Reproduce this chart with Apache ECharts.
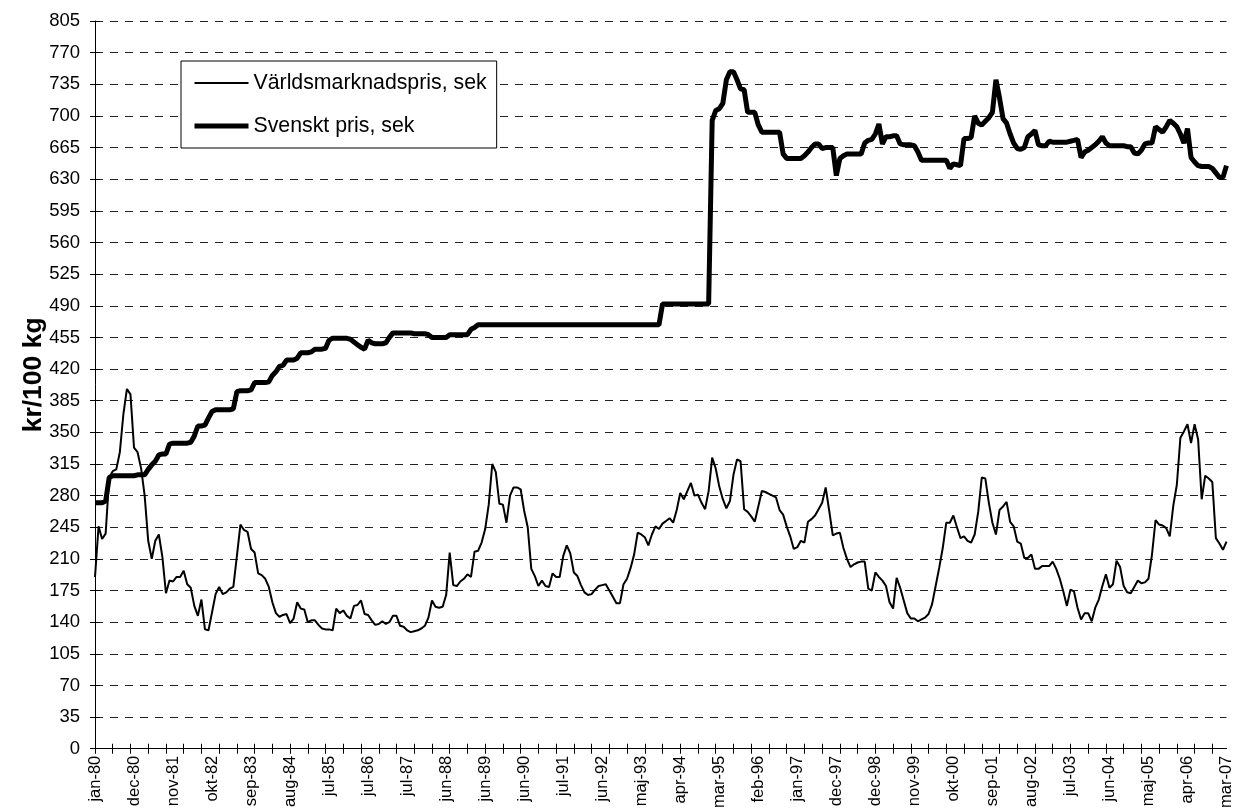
<!DOCTYPE html>
<html>
<head>
<meta charset="utf-8">
<title>Världsmarknadspris och svenskt pris</title>
<script src="https://cdn.jsdelivr.net/npm/echarts@6/dist/echarts.min.js"></script>
<style>
  html, body { margin: 0; padding: 0; background: #fff; }
  #chart { width: 1235px; height: 811px; }
</style>
</head>
<body>
<div id="chart"></div>
<script>
// Axis labels shown every 11th month
const tickLabels = [
  'jan-80', 'dec-80', 'nov-81', 'okt-82', 'sep-83', 'aug-84', 'jul-85', 'jul-86',
  'jul-87', 'jun-88', 'jun-89', 'jun-90', 'jul-91', 'jun-92', 'maj-93', 'apr-94',
  'mar-95', 'feb-96', 'jan-97', 'dec-97', 'dec-98', 'nov-99', 'okt-00', 'sep-01',
  'aug-02', 'jul-03', 'jun-04', 'maj-05', 'apr-06', 'mar-07'
];

// Världsmarknadspris, sek (kr/100 kg), monthly
const worldPrice = [
  190, 246, 232, 238, 300, 307, 309, 328, 370, 398,
  392, 333, 328, 310, 280, 230, 210, 230, 237, 212,
  172, 186, 185, 190, 190, 197, 182, 178, 158, 147,
  165, 132, 131, 151, 171, 179, 171, 173, 177, 179,
  213, 248, 242, 240, 221, 217, 194, 192, 188, 179,
  162, 150, 146, 148, 149, 139, 144, 162, 155, 154,
  140, 142, 142, 137, 133, 132, 132, 131, 155, 150,
  153, 147, 144, 158, 159, 164, 149, 148, 142, 137,
  138, 141, 138, 140, 147, 147, 136, 135, 131, 129,
  130, 131, 133, 136, 145, 164, 157, 156, 157, 170,
  217, 181, 180, 185, 188, 193, 190, 218, 219, 228,
  243, 270, 315, 306, 271, 270, 250, 280, 289, 289,
  287, 263, 245, 199, 191, 180, 186, 180, 179, 194,
  190, 190, 213, 225, 216, 195, 191, 181, 173, 170,
  171, 176, 180, 181, 182, 175, 168, 161, 161, 182,
  188, 200, 215, 239, 237, 234, 225, 237, 246, 243,
  249, 252, 255, 250, 264, 283, 276, 285, 294, 280,
  281, 272, 265, 285, 322, 310, 290, 276, 266, 274,
  303, 320, 318, 265, 262, 257, 251, 268, 285, 284,
  282, 280, 278, 264, 259, 246, 235, 221, 223, 230,
  228, 251, 254, 258, 265, 272, 289, 263, 236, 238,
  239, 222, 210, 201, 204, 206, 207, 207, 177, 175,
  195, 190, 186, 180, 162, 155, 189, 178, 164, 150,
  144, 144, 141, 143, 145, 149, 160, 180, 200, 222,
  250, 250, 258, 245, 233, 235, 230, 228, 237, 262,
  300, 299, 272, 250, 237, 264, 268, 273, 251, 246,
  229, 227, 211, 211, 215, 199, 199, 202, 202, 202,
  207, 199, 188, 174, 158, 176, 174, 156, 143, 150,
  150, 141, 156, 165, 180, 193, 178, 182, 208, 201,
  180, 173, 172, 179, 186, 183, 184, 188, 215, 253,
  248, 247, 244, 235, 269, 292, 344, 351, 359, 338,
  359, 342, 276, 302, 299, 295, 233, 227, 220, 229
];

// Svenskt pris, sek (kr/100 kg), monthly
const swedishPrice = [
  272, 272, 272, 274, 300, 302, 302, 302, 302, 302,
  302, 302, 303, 303, 303, 309, 314, 318, 325, 326,
  326, 337, 338, 338, 338, 338, 338, 339, 346, 357,
  357, 358, 366, 373, 375, 375, 375, 375, 375, 376,
  395, 396, 396, 396, 397, 405, 405, 405, 405, 406,
  413, 417, 423, 424, 430, 430, 430, 432, 438, 438,
  438, 439, 442, 442, 442, 443, 452, 454, 454, 454,
  454, 454, 453, 450, 447, 444, 442, 452, 449, 448,
  448, 448, 449, 455, 460, 460, 460, 460, 460, 460,
  459, 459, 459, 459, 458, 455, 455, 455, 455, 455,
  458, 458, 458, 458, 458, 458, 464, 466, 469, 469,
  469, 469, 469, 469, 469, 469, 469, 469, 469, 469,
  469, 469, 469, 469, 469, 469, 469, 469, 469, 469,
  469, 469, 469, 469, 469, 469, 469, 469, 469, 469,
  469, 469, 469, 469, 469, 469, 469, 469, 469, 469,
  469, 469, 469, 469, 469, 469, 469, 469, 469, 469,
  492, 492, 492, 492, 492, 492, 492, 492, 492, 492,
  492, 492, 492, 492, 695, 706, 708, 714, 740, 749,
  749, 740, 730, 729, 704, 704, 704, 690, 682, 682,
  682, 682, 682, 682, 658, 653, 653, 653, 653, 653,
  656, 660, 665, 669, 669, 664, 665, 665, 665, 634,
  653, 656, 658, 658, 658, 658, 658, 670, 673, 674,
  680, 691, 669, 677, 677, 678, 678, 669, 668, 668,
  668, 667, 660, 651, 651, 651, 651, 651, 651, 651,
  651, 642, 647, 646, 645, 675, 675, 676, 700, 692,
  690, 694, 698, 704, 740, 720, 697, 692, 680, 670,
  664, 663, 665, 677, 680, 684, 668, 667, 667, 672,
  671, 671, 671, 671, 671, 672, 673, 674, 654, 660,
  662, 665, 668, 672, 677, 670, 667, 667, 667, 667,
  667, 666, 666, 659, 658, 662, 669, 670, 670, 688,
  685, 682, 688, 695, 692, 688, 680, 670, 686, 654,
  649, 645, 644, 644, 644, 642, 637, 632, 632, 645
];

// One category per month; the axis shows a label on every 11th
const categories = worldPrice.map((_, i) => String(i));
const LABEL_STEP = 11;

const FONT = "'Liberation Sans', Arial, sans-serif";
const THIN = 2;
const THICK = 5;

const chart = echarts.init(document.getElementById('chart'), null, { renderer: 'canvas' });

chart.setOption({
  animation: false,
  backgroundColor: '#ffffff',
  textStyle: { fontFamily: FONT, color: '#000' },
  grid: { left: 95, right: 7, top: 21, bottom: 61, containLabel: false },
  legend: {
    orient: 'vertical',
    left: 181,
    top: 61,
    padding: [10, 10, 10, 11],
    itemGap: 19,
    itemWidth: 54,
    itemHeight: 24,
    backgroundColor: '#ffffff',
    borderColor: '#000',
    borderWidth: 1,
    borderRadius: 0,
    itemStyle: { opacity: 0 },
    lineStyle: { width: 'inherit' },
    textStyle: { fontFamily: FONT, fontSize: 21.3, lineHeight: 24, color: '#000' },
    data: [
      { name: 'Världsmarknadspris, sek', lineStyle: { width: THIN, color: '#000' } },
      { name: 'Svenskt pris, sek', lineStyle: { width: THICK, color: '#000' } }
    ]
  },
  xAxis: [
    {
      type: 'category',
      data: categories,
      boundaryGap: false,
      axisLine: { lineStyle: { color: '#000', width: 1 } },
      axisTick: { interval: 4, length: 5, lineStyle: { color: '#000' } },
      axisLabel: {
        interval: LABEL_STEP - 1,
        rotate: 90,
        margin: 7,
        fontFamily: FONT,
        fontSize: 16.5,
        color: '#000',
        formatter: (value, index) => tickLabels[index / LABEL_STEP] || ''
      },
      splitLine: { show: false }
    },
    {
      // inner half of the cross-shaped tick marks
      type: 'category',
      data: categories,
      position: 'bottom',
      boundaryGap: false,
      axisLine: { show: false },
      axisTick: { inside: true, interval: 4, length: 5, lineStyle: { color: '#000' } },
      axisLabel: { show: false },
      splitLine: { show: false }
    }
  ],
  yAxis: [
    {
      type: 'value',
      min: 0,
      max: 805,
      interval: 35,
      name: 'kr/100 kg',
      nameLocation: 'middle',
      nameRotate: 90,
      nameGap: 48,
      nameMoveOverlap: false,
      nameTextStyle: {
        fontFamily: FONT, fontSize: 26.5, fontWeight: 'bold', color: '#000',
        padding: [0, 0, 0, 20]
      },
      axisLine: { show: true, lineStyle: { color: '#000', width: 1 } },
      axisTick: { show: true, length: 5, lineStyle: { color: '#000' } },
      axisLabel: { margin: 15, fontFamily: FONT, fontSize: 18.5, color: '#000' },
      splitLine: { show: true, lineStyle: { color: '#222', width: 1, type: [8, 7] } }
    },
    {
      type: 'value',
      min: 0,
      max: 805,
      interval: 35,
      position: 'left',
      axisLine: { show: false },
      axisTick: { show: true, inside: true, length: 5, lineStyle: { color: '#000' } },
      axisLabel: { show: false },
      splitLine: { show: false }
    }
  ],
  series: [
    {
      name: 'Världsmarknadspris, sek',
      type: 'line',
      data: worldPrice,
      showSymbol: false,
      symbol: 'none',
      lineStyle: { color: '#000', width: THIN },
      itemStyle: { color: '#000' },
      z: 3
    },
    {
      name: 'Svenskt pris, sek',
      type: 'line',
      data: swedishPrice,
      showSymbol: false,
      symbol: 'none',
      lineStyle: { color: '#000', width: THICK },
      itemStyle: { color: '#000' },
      z: 4
    }
  ]
});
</script>
</body>
</html>
